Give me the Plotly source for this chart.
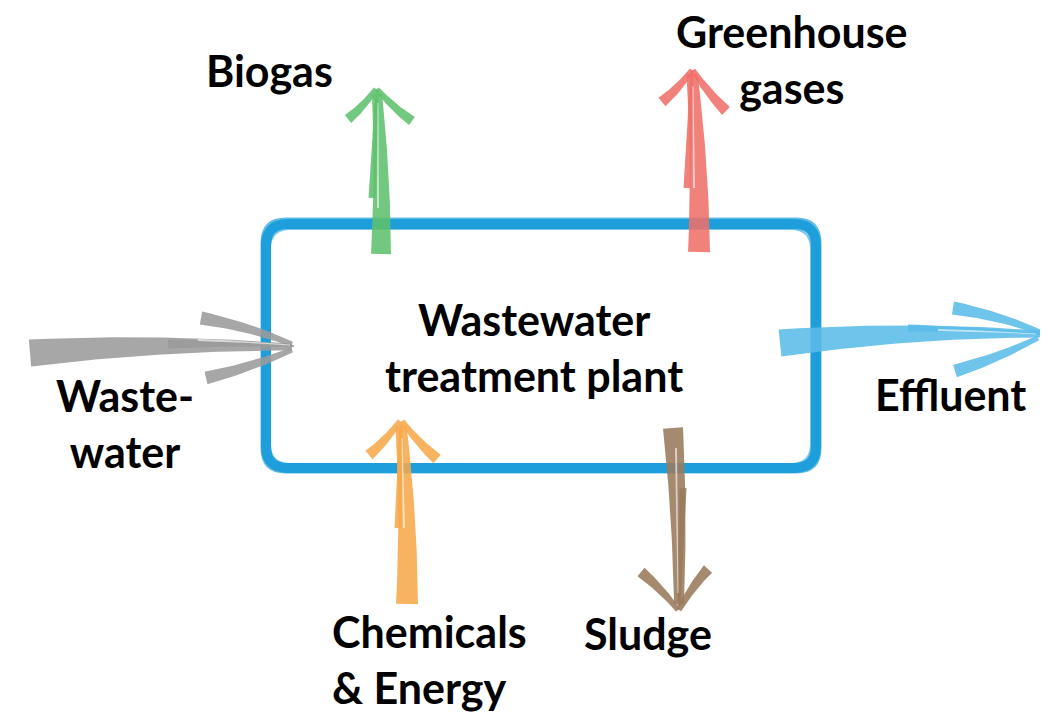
import numpy as np
import plotly.graph_objects as go

# ---- content (text only) ----
center_label = ["Wastewater", "treatment plant"]
flow_names = ["Waste-<br>water", "Biogas", "Greenhouse<br>gases", "Effluent",
              "Chemicals<br>& Energy", "Sludge"]
flow_direction = ["in", "out", "out", "out", "in", "out"]

# ---- drawing geometry (pixel canvas) ----
W, H = 1048, 717
FONT = "Lato"
FS = 43

colors = {
    "Waste-<br>water": "#9b9b9b",
    "Biogas": "#5fc06c",
    "Greenhouse<br>gases": "#ef7069",
    "Effluent": "#5bbce8",
    "Chemicals<br>& Energy": "#f6a94a",
    "Sludge": "#9a7a5c",
}
BOX = "#1e9fdc"

# strokes: (start, end, width_start, width_end, bend)
geom = {
    "Waste-<br>water": dict(
        shaft=[((22, 345), (284, 339), 27, 7, -8), ((160, 336), (286, 338), 9, 2, -2)],
        barbs=[((193, 310), (284, 336), 13, 5, -5), ((198, 370), (284, 342), 13, 5, 4)],
        streaks=[((190, 332), (282, 337), 2, 1, -1)],
        label=(117, 415, "center")),
    "Biogas": dict(
        shaft=[((373, 246), (369, 86), 20, 10, 4), ((364, 190), (369, 82), 7, 3, 0)],
        barbs=[((340, 111), (368, 81), 10, 5, 3), ((404, 113), (369, 81), 10, 5, -3)],
        streaks=[((370, 200), (370, 95), 2, 1, 0)],
        label=(261, 62, "center")),
    "Greenhouse<br>gases": dict(
        shaft=[((691, 244), (684, 66), 22, 11, 5), ((679, 180), (684, 64), 7, 3, 0)],
        barbs=[((654, 94), (684, 62), 11, 5, 3), ((718, 103), (685, 62), 11, 5, -3)],
        streaks=[((686, 180), (685, 78), 2, 1, 0)],
        label=(784, 51, "center")),
    "Effluent": dict(
        shaft=[((772, 335), (1032, 326), 27, 7, -9), ((900, 320), (1034, 326), 7, 2, -2)],
        barbs=[((945, 300), (1032, 324), 13, 5, -5), ((947, 363), (1030, 330), 13, 5, 4)],
        streaks=[((930, 322), (1028, 326), 2, 1, -1)],
        label=(942, 386, "center")),
    "Chemicals<br>& Energy": dict(
        shaft=[((399, 596), (393, 418), 22, 11, 5), ((390, 520), (393, 416), 7, 3, 0)],
        barbs=[((361, 447), (392, 413), 11, 5, 3), ((429, 451), (394, 413), 11, 5, -3)],
        streaks=[((396, 520), (394, 430), 2, 1, 0)],
        label=(322, 651, "left")),
    "Sludge": dict(
        shaft=[((665, 420), (671, 596), 20, 10, -4), ((675, 480), (671, 598), 7, 3, 0)],
        barbs=[((633, 564), (670, 602), 11, 5, -3), ((700, 561), (671, 602), 11, 5, 3)],
        streaks=[((668, 440), (670, 585), 2, 1, 0)],
        label=(640, 625, "center")),
}


def stroke(p0, p1, w0, w1, bend, n=40):
    p0 = np.array(p0, float)
    p1 = np.array(p1, float)
    d = p1 - p0
    nrm = np.array([-d[1], d[0]]) / np.hypot(*d)
    c = (p0 + p1) / 2 + nrm * bend
    t = np.linspace(0, 1, n)[:, None]
    pts = (1 - t) ** 2 * p0 + 2 * (1 - t) * t * c + t ** 2 * p1
    der = 2 * (1 - t) * (c - p0) + 2 * t * (p1 - c)
    nn = np.column_stack([-der[:, 1], der[:, 0]])
    nn /= np.linalg.norm(nn, axis=1)[:, None]
    w = (w0 + (w1 - w0) * t) / 2
    left = pts + nn * w
    right = pts - nn * w
    poly = np.vstack([left, right[::-1], left[:1]])
    return poly[:, 0], poly[:, 1]


fig = go.Figure()


def rrect(x0, y0, x1, y1, r):
    return (f"M {x0+r},{y0} L {x1-r},{y0} Q {x1},{y0} {x1},{y0+r} "
            f"L {x1},{y1-r} Q {x1},{y1} {x1-r},{y1} L {x0+r},{y1} "
            f"Q {x0},{y1} {x0},{y1-r} L {x0},{y0+r} Q {x0},{y0} {x0+r},{y0} Z")


shapes = [
    dict(type="path", path=rrect(258, 216, 808, 460, 22), line=dict(color=BOX, width=10),
         layer="below"),
    dict(type="path", path=rrect(254, 211, 812, 464, 24), line=dict(color=BOX, width=3),
         opacity=0.7, layer="below"),
    dict(type="path", path=rrect(262, 221, 803, 456, 20), line=dict(color=BOX, width=2),
         opacity=0.6, layer="below"),
]

for name, dirn in zip(flow_names, flow_direction):
    g = geom[name]
    col = colors[name]
    for s in g["shaft"] + g["barbs"]:
        x, y = stroke(*s)
        fig.add_trace(go.Scatter(x=x, y=y, mode="lines", fill="toself",
                                 fillcolor=col, line=dict(width=0, color=col),
                                 opacity=0.88, hoverinfo="skip", showlegend=False))
    for s in g["streaks"]:
        x, y = stroke(*s)
        fig.add_trace(go.Scatter(x=x, y=y, mode="lines", fill="toself",
                                 fillcolor="white", line=dict(width=0, color="white"),
                                 opacity=0.6, hoverinfo="skip", showlegend=False))

annotations = []
for name in flow_names:
    lx, ly, al = geom[name]["label"]
    annotations.append(dict(x=lx, y=ly, text=name, showarrow=False,
                            xanchor=al, yanchor="middle", align=al,
                            font=dict(family=FONT, size=FS, color="black", weight="bold")))
annotations.append(dict(x=526, y=339, text="<br>".join(center_label), showarrow=False,
                        xanchor="center", yanchor="middle", align="center",
                        font=dict(family=FONT, size=FS, color="black", weight="bold")))

fig.update_layout(
    width=W, height=H, margin=dict(l=0, r=0, t=0, b=0),
    paper_bgcolor="white", plot_bgcolor="white",
    xaxis=dict(range=[0, W], visible=False, fixedrange=True),
    yaxis=dict(range=[H, 0], visible=False, fixedrange=True),
    shapes=shapes, annotations=annotations, showlegend=False,
)

fig.write_html("out.html", config={"displayModeBar": False})
